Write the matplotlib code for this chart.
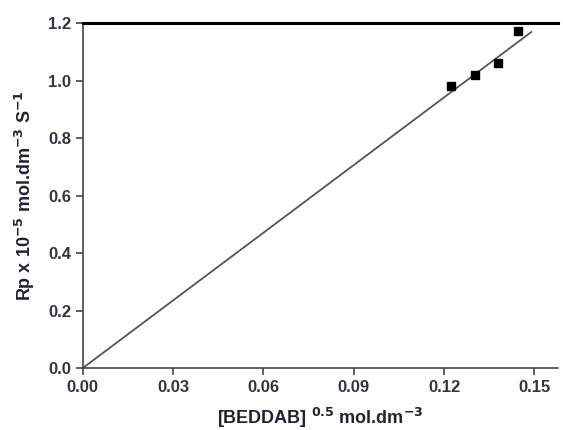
import matplotlib.pyplot as plt
import numpy as np

plt.rcParams['font.family'] = ['Liberation Sans', 'DejaVu Sans']

conc = [0.1223, 0.1302, 0.1379, 0.1445]
rp = [0.981, 1.019, 1.061, 1.172]

fit_x = [0.0, 0.149]
slope = 7.845
fit_y = [slope * v for v in fit_x]

fig = plt.figure(figsize=(5.63, 4.30), dpi=100)
ax = fig.add_axes([0.147, 0.144, 0.845, 0.8025])

ax.plot(fit_x, fit_y, color='#555555', lw=1.3)
ax.plot(conc, rp, 's', color='black', ms=6.2)

ax.set_xlim(0, 0.158)
ax.set_ylim(0, 1.2)
ax.set_xticks([0.00, 0.03, 0.06, 0.09, 0.12, 0.15])
ax.set_yticks([0.0, 0.2, 0.4, 0.6, 0.8, 1.0, 1.2])
ax.set_xticklabels(['0.00', '0.03', '0.06', '0.09', '0.12', '0.15'])
ax.set_yticklabels(['0.0', '0.2', '0.4', '0.6', '0.8', '1.0', '1.2'])

ax.spines['right'].set_visible(False)
ax.spines['top'].set_linewidth(2.2)
ax.spines['top'].set_color('black')
for s in ['left', 'bottom']:
    ax.spines[s].set_color('#444444')
    ax.spines[s].set_linewidth(1.2)

ax.tick_params(direction='out', length=5, width=1.2, color='#444444',
               labelsize=12, labelcolor='#333344')
for lab in ax.get_xticklabels() + ax.get_yticklabels():
    lab.set_fontweight('bold')

ax.set_xlabel(r'[BEDDAB] $^{\mathbf{0.5}}$ mol.dm$^{\mathbf{-3}}$', fontsize=13,
              fontweight='bold', color='#222233', labelpad=8)
ax.set_ylabel(r'Rp x 10$^{\mathbf{-5}}$ mol.dm$^{\mathbf{-3}}$ S$^{\mathbf{-1}}$', fontsize=13,
              fontweight='bold', color='#222233', labelpad=8)

plt.savefig('out.png', dpi=100)
